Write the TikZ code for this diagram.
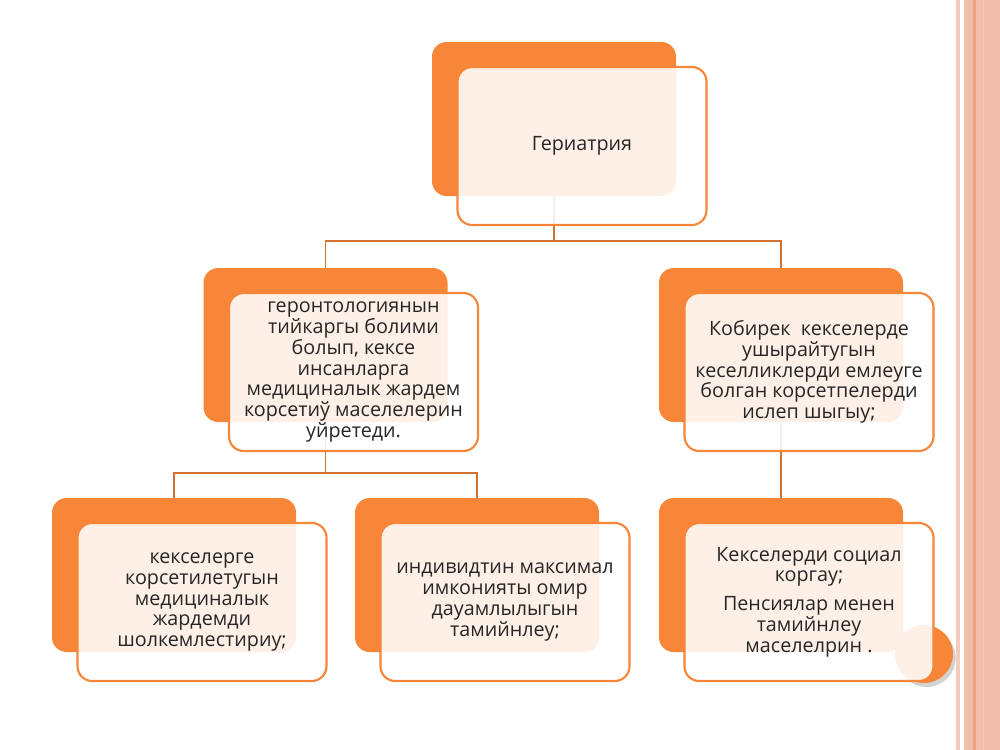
\documentclass[tikz,border=0pt]{standalone}
\usepackage{fontspec}
\setmainfont{Open Sans}
\usepackage{xcolor}
\usepackage{tikz}
\usetikzlibrary{shadows}
\definecolor{slideorange}{RGB}{247,134,56}
\definecolor{lineorange}{RGB}{210,115,50}
\definecolor{stripe}{RGB}{241,190,171}
\definecolor{stripedark}{RGB}{236,163,128}

\begin{document}
\begin{tikzpicture}[x=0.75pt, y=-0.75pt, backbox/.style={rectangle, rounded corners=11pt, fill=slideorange, draw=none, minimum width=183pt, minimum height=115.5pt}, frontbox/.style={rectangle, rounded corners=11pt, draw=slideorange, line width=1.6pt, fill=white, fill opacity=0.88, text opacity=1, text=black!85, minimum width=186.75pt, minimum height=118.5pt, xshift=21pt, yshift=-20.25pt, align=center, font=\fontsize{14.8}{15.6}\selectfont}, link/.style={draw=lineorange, line width=1.1pt}]
    \useasboundingbox (0,0) rectangle (1000,750);
    
    %Stripes
    \fill[stripe!80] (956,0) rectangle (960,750);
    \fill[stripe] (964,0) rectangle (1000,750);
    \fill[stripedark] (973,0) rectangle (976,750);
    \draw[stripedark!60, line width=0.6pt] (983,0) -- (983,750);
    
    %Nodes
    \node[backbox](ger_back) at (554,119){};
    \node[backbox](gero_back) at (325.5,345){};
    \node[backbox](kob_back) at (781,345){};
    \node[backbox](kek_back) at (174,575){};
    \node[backbox](ind_back) at (477,575){};
    \node[backbox](soc_back) at (781,575){};
    
    \coordinate (split_top) at (554,241);
    \coordinate (split_left) at (325.5,473);
    
    %Lines
    \draw[link] (ger_back.south) -- (split_top);
    \draw[link] (gero_back.north) |- (split_top) -| (kob_back.north);
    \draw[link] (gero_back.south) -- (split_left);
    \draw[link] (kek_back.north) |- (split_left) -| (ind_back.north);
    \draw[link] (kob_back.south) -- (soc_back.north);
    
    \node[circle, fill=slideorange, minimum size=43.5pt, drop shadow={shadow xshift=2pt, shadow yshift=-3pt, opacity=0.35}](dot) at (924,654){};
    
    \node[frontbox](ger) at (ger_back){Гериатрия};
    \node[frontbox](gero) at (gero_back){геронтологиянын\\тийкаргы болими\\болып, кексе\\инсанларга\\медициналык жардем\\корсетиў маселелерин\\уйретеди.};
    \node[frontbox](kob) at (kob_back){Кобирек\ \ кекселерде\\ушырайтугын\\кеселликлерди емлеуге\\болган корсетпелерди\\ислеп шыгыу;};
    \node[frontbox](kek) at (kek_back){кекселерге\\корсетилетугын\\медициналык\\жардемди\\шолкемлестириу;};
    \node[frontbox](ind) at (ind_back){индивидтин максимал\\имконияты омир\\дауамлылыгын\\тамийнлеу;};
    \node[frontbox](soc) at (soc_back){Кекселерди социал\\коргау;\\[6pt]Пенсиялар менен\\тамийнлеу\\маселелрин .};
    
\end{tikzpicture}
\end{document}
